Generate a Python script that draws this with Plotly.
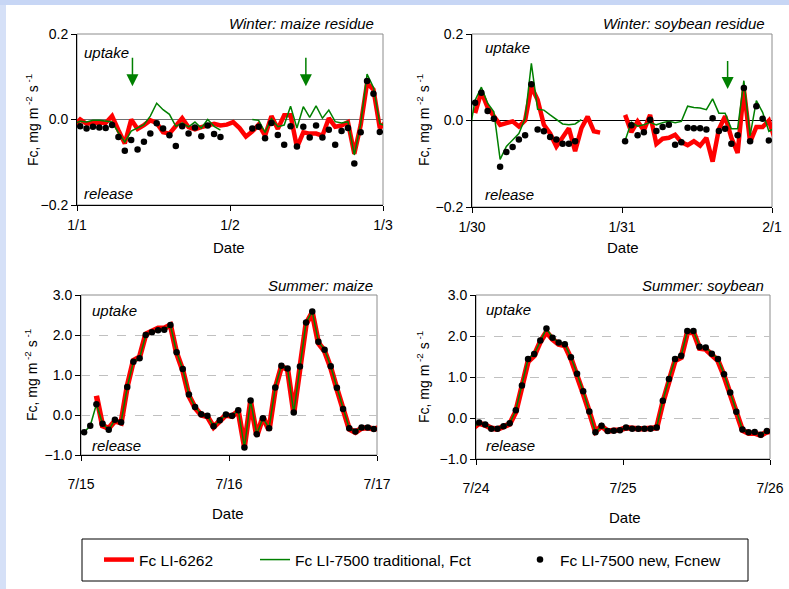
import plotly.graph_objects as go

# ---------------- data (hourly values at hh:30, first/last entries lie just outside the 2-day window) -------------
HOURS = [h + 0.5 for h in range(-1, 49)]

PANEL_TITLES = ["Winter: maize residue", "Winter: soybean residue", "Summer: maize", "Summer: soybean"]
TL_TICKS = ["1/1", "1/2", "1/3"]
TR_TICKS = ["1/30", "1/31", "2/1"]
BL_TICKS = ["7/15", "7/16", "7/17"]
BR_TICKS = ["7/24", "7/25", "7/26"]
SERIES_NAMES = ["Fc LI-6262", "Fc LI-7500 traditional, Fct", "Fc LI-7500 new, Fcnew"]

N = None
# Winter: maize residue
TL_RED = [-0.015, 0.0, -0.01, -0.008, -0.007, -0.008, 0.008, -0.025, -0.056, 0.0,
          -0.022, -0.013, -0.002, -0.008, -0.03, -0.033, -0.013, 0.003, -0.018, -0.023,
          -0.018, -0.013, -0.01, -0.014, -0.012, -0.006, -0.02, -0.04, -0.028, -0.012,
          -0.038, 0.008, -0.022, 0.01, 0.01, -0.065, -0.03, -0.033, -0.033, -0.038,
          0.003, -0.017, -0.014, -0.006, -0.08, -0.013, 0.085, 0.07, -0.02, -0.005]
TL_GREEN = [-0.01, -0.004, -0.006, -0.002, -0.002, -0.004, -0.006, -0.031, -0.053, -0.027,
            -0.02, -0.012, 0.008, 0.038, 0.023, 0.012, -0.016, -0.008, -0.017, -0.006,
            -0.02, 0.0, -0.016, -0.025, N, N, N, N, 0.0, -0.002,
            -0.03, 0.002, -0.017, -0.013, 0.031, -0.02, 0.03, 0.005, 0.032, 0.003,
            0.022, -0.005, -0.008, -0.005, -0.083, -0.01, 0.106, 0.075, -0.01, -0.015]
TL_BLACK = [N, -0.016, -0.021, -0.017, -0.019, -0.02, -0.013, -0.041, -0.073, -0.048,
            -0.07, -0.052, -0.033, -0.009, -0.021, -0.037, -0.062, -0.016, -0.033, -0.019,
            -0.039, -0.014, -0.034, -0.041, N, N, N, N, -0.021, -0.017,
            -0.044, -0.008, -0.036, -0.059, -0.016, -0.063, -0.017, -0.042, -0.014, -0.042,
            -0.024, -0.059, -0.027, -0.02, -0.103, -0.03, 0.09, 0.06, -0.029, N]

# Winter: soybean residue
TR_RED = [N, 0.017, 0.066, 0.03, 0.01, -0.01, -0.006, -0.002, -0.014, 0.0,
          0.078, 0.048, -0.01, -0.03, -0.06, -0.037, -0.018, -0.071, -0.018, 0.009,
          -0.025, -0.028, N, N, N, 0.013, -0.027, -0.002, -0.023, 0.013,
          -0.054, -0.042, -0.04, -0.033, -0.05, -0.057, -0.048, -0.058, -0.04, -0.095,
          -0.02, 0.01, -0.04, -0.075, 0.072, -0.05, -0.015, -0.015, 0.0, -0.045]
TR_GREEN = [-0.035, 0.047, 0.077, 0.04, 0.02, -0.09, -0.06, -0.045, -0.03, 0.005,
            0.132, 0.026, 0.024, 0.013, 0.003, -0.008, -0.01, -0.008, 0.002, N,
            N, N, N, N, N, -0.046, -0.004, -0.013, -0.01, -0.004,
            -0.01, -0.005, -0.002, -0.005, -0.002, 0.033, 0.03, 0.029, 0.025, 0.05,
            0.017, 0.017, -0.019, -0.019, 0.092, -0.035, 0.046, 0.019, -0.025, -0.017]
TR_BLACK = [N, 0.041, 0.064, 0.022, 0.004, -0.107, -0.073, -0.061, -0.044, -0.034,
            0.084, -0.021, -0.025, -0.038, -0.044, -0.054, -0.054, -0.048, N, N,
            N, N, N, N, N, -0.048, -0.011, -0.034, -0.027, 0.002,
            -0.024, -0.015, -0.01, -0.056, -0.05, -0.017, -0.018, -0.018, -0.021, 0.005,
            -0.024, -0.019, -0.054, -0.034, 0.075, -0.048, 0.033, 0.004, -0.046, N]

# Summer: maize
BL_RED = [N, N, N, 0.48, -0.27, -0.33, -0.15, -0.2, 0.72, 1.36,
          1.45, 2.02, 2.1, 2.17, 2.17, 2.25, 1.55, 1.12, 0.48, 0.18,
          0.0, -0.04, -0.3, -0.14, 0.0, -0.03, 0.1, -0.78, 0.33, -0.52,
          -0.05, -0.38, 0.66, 1.21, 1.14, 0.06, 1.2, 2.28, 2.56, 1.8,
          1.6, 1.18, 0.65, 0.13, -0.35, -0.43, -0.33, -0.32, -0.35, -0.32]
BL_GREEN = [-0.45, -0.43, -0.27, 0.27, -0.22, -0.37, -0.12, -0.18, 0.7, 1.33,
            1.42, 2.0, 2.07, 2.12, 2.13, 2.25, 1.57, 1.15, 0.51, 0.2,
            0.02, -0.02, -0.28, -0.13, 0.01, -0.02, 0.12, -0.81, 0.36, -0.48,
            -0.08, -0.33, 0.69, 1.23, 1.16, 0.06, 1.21, 2.31, 2.59, 1.83,
            1.63, 1.22, 0.68, 0.15, -0.33, -0.41, -0.31, -0.31, -0.35, -0.33]
BL_BLACK = [N, -0.43, -0.27, 0.27, -0.22, -0.37, -0.12, -0.18, 0.7, 1.33,
            1.42, 2.0, 2.07, 2.12, 2.13, 2.25, 1.57, 1.15, 0.51, 0.2,
            0.02, -0.02, -0.28, -0.13, 0.01, -0.02, 0.12, -0.81, 0.36, -0.48,
            -0.08, -0.33, 0.69, 1.23, 1.16, 0.06, 1.21, 2.31, 2.59, 1.83,
            1.63, 1.22, 0.68, 0.15, -0.33, -0.41, -0.31, -0.31, -0.35, N]

# Summer: soybean
BR_RED = [-0.25, -0.13, -0.17, -0.25, -0.27, -0.22, -0.15, 0.15, 0.75, 1.38,
          1.52, 1.86, 2.1, 1.92, 1.8, 1.77, 1.45, 1.05, 0.6, 0.15,
          -0.33, -0.2, -0.32, -0.3, -0.29, -0.24, -0.26, -0.26, -0.26, -0.26,
          -0.24, 0.38, 0.92, 1.4, 1.48, 2.08, 2.1, 1.7, 1.68, 1.55,
          1.4, 1.03, 0.58, 0.12, -0.3, -0.37, -0.37, -0.42, -0.34, -0.32]
BR_GREEN = [-0.25, -0.11, -0.16, -0.26, -0.26, -0.2, -0.13, 0.19, 0.79, 1.44,
            1.56, 1.89, 2.18, 1.96, 1.84, 1.8, 1.48, 1.08, 0.65, 0.16,
            -0.35, -0.19, -0.32, -0.31, -0.3, -0.23, -0.26, -0.26, -0.26, -0.26,
            -0.23, 0.42, 0.95, 1.44, 1.52, 2.12, 2.12, 1.74, 1.72, 1.57,
            1.44, 1.07, 0.62, 0.15, -0.28, -0.35, -0.34, -0.41, -0.32, -0.32]
BR_BLACK = [N, -0.11, -0.16, -0.26, -0.26, -0.2, -0.13, 0.19, 0.79, 1.44,
            1.56, 1.89, 2.18, 1.96, 1.84, 1.8, 1.48, 1.08, 0.65, 0.16,
            -0.35, -0.19, -0.32, -0.31, -0.3, -0.23, -0.26, -0.26, -0.26, -0.26,
            -0.23, 0.42, 0.95, 1.44, 1.52, 2.12, 2.12, 1.74, 1.72, 1.57,
            1.44, 1.07, 0.62, 0.15, -0.28, -0.35, -0.34, -0.41, -0.32, N]

# green arrows (hour within the 2-day window)
TL_ARROW_HOURS = [8.7, 35.9]
TR_ARROW_HOURS = [40.9]

# ---------------- layout helpers ----------------
W, H = 789, 589
FONT = "Liberation Sans, Arial, sans-serif"
RED, GREEN, BLACK = "#ff0000", "#008000", "#000000"


def px(x):
    return x / W


def py(y):
    return 1 - y / H


panels = [
    # (red, green, black, ticks, domain px (x0,x1,y_top,y_bottom), winter?)
    (TL_RED, TL_GREEN, TL_BLACK, TL_TICKS, (77, 383, 34, 205), True),
    (TR_RED, TR_GREEN, TR_BLACK, TR_TICKS, (472, 772, 34, 207), True),
    (BL_RED, BL_GREEN, BL_BLACK, BL_TICKS, (81, 377, 295, 455), False),
    (BR_RED, BR_GREEN, BR_BLACK, BR_TICKS, (476, 770, 295, 459), False),
]

fig = go.Figure()
layout = dict(
    width=W, height=H, margin=dict(l=0, r=0, t=0, b=0, pad=0), autosize=False,
    paper_bgcolor="white", plot_bgcolor="white",
    font=dict(family=FONT, size=14, color="black"),
    showlegend=True,
)
shapes = []
annotations = []

for i, (red, green, black, ticks, dom, winter) in enumerate(panels):
    n = "" if i == 0 else str(i + 1)
    xa, ya = "x" + n, "y" + n
    first = i == 0
    fig.add_trace(go.Scatter(x=HOURS, y=red, mode="lines", name=SERIES_NAMES[0],
                             line=dict(color=RED, width=4.5 if winter else 5.5),
                             xaxis=xa, yaxis=ya, showlegend=first, legend="legend",
                             connectgaps=False))
    fig.add_trace(go.Scatter(x=HOURS, y=green, mode="lines", name=SERIES_NAMES[1],
                             line=dict(color=GREEN, width=1.5),
                             xaxis=xa, yaxis=ya, showlegend=first, legend="legend2"))
    fig.add_trace(go.Scatter(x=HOURS, y=black, mode="markers", name=SERIES_NAMES[2],
                             marker=dict(color=BLACK, size=6.5),
                             xaxis=xa, yaxis=ya, showlegend=first, legend="legend3"))

    x0, x1, yt, yb = dom
    layout["xaxis" + n] = dict(
        domain=[px(x0), px(x1)], anchor=ya, range=[0, 48], automargin=False,
        tickvals=[0, 24, 48], ticktext=ticks,
        showline=True, linecolor="black", linewidth=1,
        ticks="outside", ticklen=5, tickcolor="black",
        showgrid=False, zeroline=False,
        ticklabelstandoff=2 if winter else 11,
        tickfont=dict(family=FONT, size=14),
    )
    ydict = dict(
        domain=[py(yb), py(yt)], anchor=xa, automargin=False,
        showline=True, linecolor="black", linewidth=1,
        ticks="outside", ticklen=5, tickcolor="black",
        tickformat=".1f", tickfont=dict(family=FONT, size=14),
    )
    if winter:
        ydict.update(range=[-0.2, 0.2], tickvals=[-0.2, 0.0, 0.2], showgrid=False,
                     zeroline=True, zerolinecolor="#707070" if i == 0 else "black", zerolinewidth=1)
    else:
        ydict.update(range=[-1, 3], tickvals=[-1, 0, 1, 2, 3], showgrid=True,
                     gridcolor="#c0c0c0", griddash="dash", gridwidth=1, zeroline=False)
    layout["yaxis" + n] = ydict

    # gray frame (top/right)
    shapes.append(dict(type="rect", xref="paper", yref="paper",
                       x0=px(x0), x1=px(x1), y0=py(yb), y1=py(yt),
                       line=dict(color="#8c8c8c", width=1), layer="below"))

# panel texts
title_pos = [(376, 23), (767, 23), (375, 285), (766, 285)]
upt_pos = [(82, 53), (483, 48), (90, 310), (484, 309)]
rel_pos = [(82, 193), (483, 194), (90, 445), (484, 445)]
ytitle_pos = [(32, 120), (423, 120), (31, 375), (423, 377)]
date_pos = [(229, 247), (623, 247), (228, 513), (625, 517)]
for i in range(4):
    annotations.append(dict(text=PANEL_TITLES[i], xref="paper", yref="paper",
                            x=px(title_pos[i][0]), y=py(title_pos[i][1]),
                            xanchor="right", yanchor="middle", showarrow=False,
                            font=dict(family=FONT, size=15, style="italic")))
    annotations.append(dict(text="uptake", xref="paper", yref="paper",
                            x=px(upt_pos[i][0]), y=py(upt_pos[i][1]),
                            xanchor="left", yanchor="middle", showarrow=False,
                            font=dict(family=FONT, size=15, style="italic")))
    annotations.append(dict(text="release", xref="paper", yref="paper",
                            x=px(rel_pos[i][0]), y=py(rel_pos[i][1]),
                            xanchor="left", yanchor="middle", showarrow=False,
                            font=dict(family=FONT, size=15, style="italic")))
    annotations.append(dict(text="Fc, mg m<sup> -2</sup> s<sup> -1</sup>", xref="paper", yref="paper",
                            x=px(ytitle_pos[i][0]), y=py(ytitle_pos[i][1]),
                            xanchor="center", yanchor="middle", showarrow=False, textangle=-90,
                            font=dict(family=FONT, size=14)))
    annotations.append(dict(text="Date", xref="paper", yref="paper",
                            x=px(date_pos[i][0]), y=py(date_pos[i][1]),
                            xanchor="center", yanchor="middle", showarrow=False,
                            font=dict(family=FONT, size=15)))

# green arrows
for h in TL_ARROW_HOURS:
    annotations.append(dict(text="", x=h, y=0.078, ax=h, ay=0.148, xref="x", yref="y",
                            axref="x", ayref="y", showarrow=True, arrowhead=2, arrowsize=1.6,
                            arrowwidth=1.5, arrowcolor=GREEN))
for h in TR_ARROW_HOURS:
    annotations.append(dict(text="", x=h, y=0.073, ax=h, ay=0.141, xref="x2", yref="y2",
                            axref="x2", ayref="y2", showarrow=True, arrowhead=2, arrowsize=1.6,
                            arrowwidth=1.5, arrowcolor=GREEN))

# background bands and legend box
shapes.insert(0, dict(type="rect", xref="paper", yref="paper", x0=0, x1=1, y0=py(5), y1=1,
                      line=dict(width=0), fillcolor="#c7d6f5", layer="below"))
shapes.insert(0, dict(type="rect", xref="paper", yref="paper", x0=0, x1=px(6), y0=0, y1=1,
                      line=dict(width=0), fillcolor="#d5e0f7", layer="below"))
shapes.append(dict(type="rect", xref="paper", yref="paper", x0=px(82), x1=px(748),
                   y0=py(581), y1=py(539), line=dict(color="black", width=1),
                   fillcolor="rgba(0,0,0,0)", layer="above"))

leg_common = dict(yanchor="middle", y=py(560), xanchor="left", bgcolor="rgba(0,0,0,0)",
                  borderwidth=0, font=dict(family=FONT, size=15.5), orientation="h")
layout["legend"] = dict(x=px(99), **leg_common)
layout["legend2"] = dict(x=px(255), **leg_common)
layout["legend3"] = dict(x=px(520), **leg_common)

layout["shapes"] = shapes
layout["annotations"] = annotations
fig.update_layout(**layout)
fig.write_html("out.html", config={"displayModeBar": False},
               post_script="document.body.style.margin='0';document.body.style.overflow='hidden';")
